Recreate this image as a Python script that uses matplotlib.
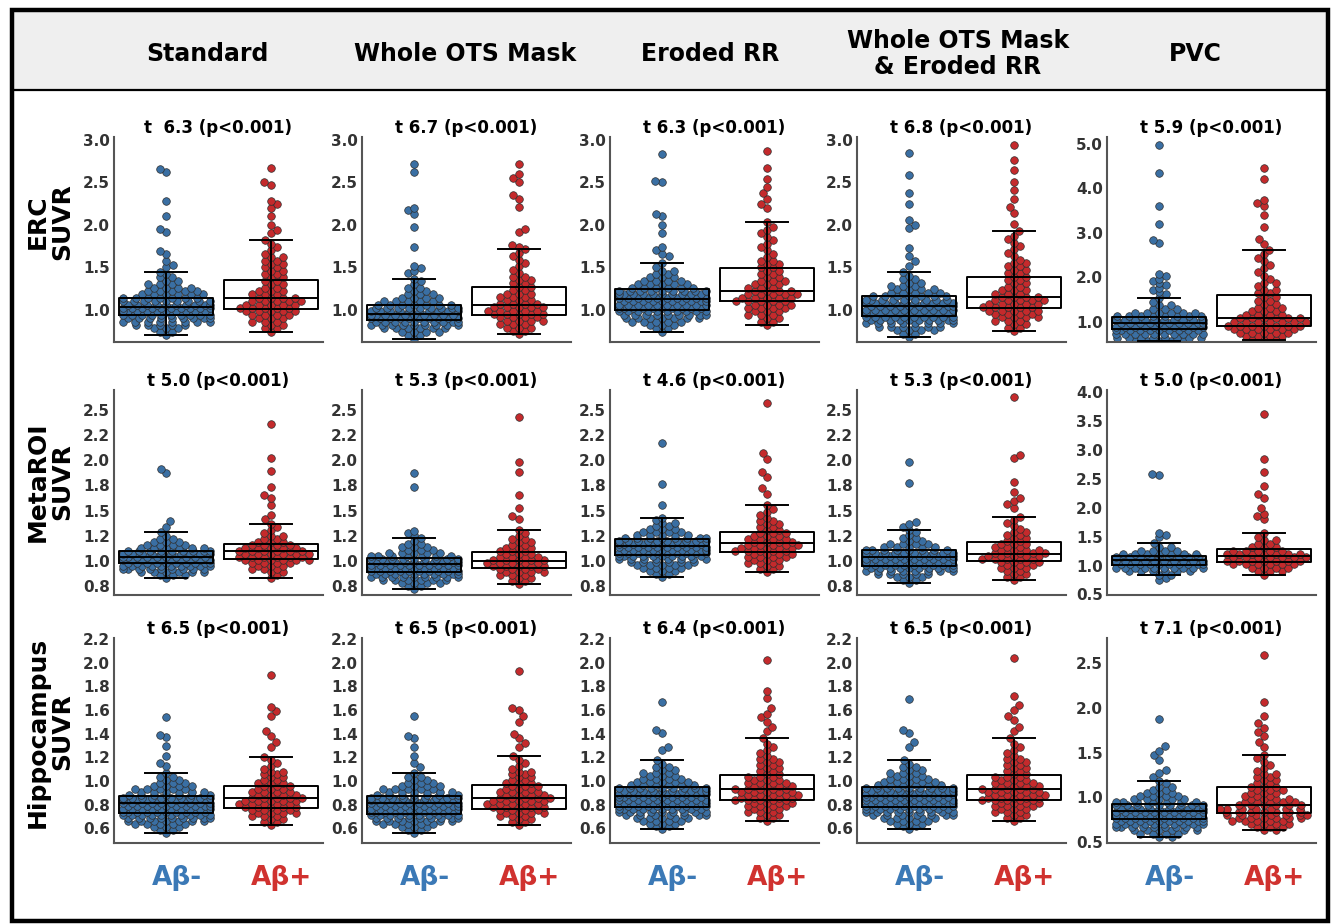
import numpy as np
import matplotlib
matplotlib.use('Agg')
import matplotlib.pyplot as plt
from matplotlib.patches import Rectangle
from matplotlib.lines import Line2D
from matplotlib.ticker import FormatStrFormatter

OUT_FILE = 'out.png'

COLUMNS = ['Standard', 'Whole OTS Mask', 'Eroded RR', 'Whole OTS Mask\n& Eroded RR', 'PVC']
ROWS = ['ERC\nSUVR', 'MetaROI\nSUVR', 'Hippocampus\nSUVR']
GROUPS = ['Aβ-', 'Aβ+']

T_LABELS = [
    ['t  6.3 (p<0.001)', 't 6.7 (p<0.001)', 't 6.3 (p<0.001)', 't 6.8 (p<0.001)', 't 5.9 (p<0.001)'],
    ['t 5.0 (p<0.001)', 't 5.3 (p<0.001)', 't 4.6 (p<0.001)', 't 5.3 (p<0.001)', 't 5.0 (p<0.001)'],
    ['t 6.5 (p<0.001)', 't 6.5 (p<0.001)', 't 6.4 (p<0.001)', 't 6.5 (p<0.001)', 't 7.1 (p<0.001)'],
]

# y ticks / limits per row: (standard-like columns, PVC column)
Y_TICKS = [
    ([1.0, 1.5, 2.0, 2.5, 3.0], [1.0, 2.0, 3.0, 4.0, 5.0]),
    ([0.75, 1.0, 1.25, 1.5, 1.75, 2.0, 2.25, 2.5], [0.5, 1.0, 1.5, 2.0, 2.5, 3.0, 3.5, 4.0]),
    ([0.6, 0.8, 1.0, 1.2, 1.4, 1.6, 1.8, 2.0, 2.2], [0.5, 1.0, 1.5, 2.0, 2.5]),
]
Y_LIMS = [
    ((0.62, 3.035), (0.55, 5.15)),
    ((0.66, 2.70), (0.49, 4.04)),
    ((0.475, 2.21), (0.49, 2.78)),
]

# ---- box statistics: whislo, q1, median, q3, whishi ----
ERC_NEG_BOX = [[0.70, 0.94, 1.03, 1.14, 1.45], [0.66, 0.88, 0.95, 1.05, 1.36],
               [0.74, 1.00, 1.13, 1.24, 1.55], [0.68, 0.93, 1.04, 1.165, 1.44],
               [0.57, 0.85, 0.97, 1.12, 1.54]]
ERC_POS_BOX = [[0.74, 1.01, 1.14, 1.35, 1.82], [0.71, 0.94, 1.06, 1.27, 1.71],
               [0.82, 1.10, 1.22, 1.49, 2.03], [0.75, 1.02, 1.15, 1.39, 1.93],
               [0.60, 0.92, 1.08, 1.61, 2.62]]
META_NEG_BOX = [[0.83, 0.98, 1.04, 1.10, 1.29], [0.72, 0.89, 0.97, 1.03, 1.23],
                [0.84, 1.06, 1.15, 1.22, 1.43], [0.78, 0.95, 1.04, 1.11, 1.31],
                [0.84, 1.01, 1.09, 1.16, 1.39]]
META_POS_BOX = [[0.83, 1.02, 1.10, 1.17, 1.37], [0.77, 0.93, 1.00, 1.09, 1.31],
                [0.89, 1.09, 1.18, 1.29, 1.56], [0.81, 1.00, 1.07, 1.19, 1.44],
                [0.84, 1.07, 1.17, 1.29, 1.56]]
HIPP_NEG_BOX = [[0.56, 0.73, 0.81, 0.87, 1.07], [0.56, 0.72, 0.81, 0.87, 1.07],
                [0.59, 0.78, 0.87, 0.95, 1.18], [0.59, 0.78, 0.87, 0.95, 1.18],
                [0.56, 0.76, 0.85, 0.93, 1.18]]
HIPP_POS_BOX = [[0.63, 0.77, 0.86, 0.96, 1.20], [0.63, 0.76, 0.86, 0.97, 1.21],
                [0.66, 0.84, 0.93, 1.05, 1.36], [0.66, 0.84, 0.93, 1.05, 1.36],
                [0.63, 0.83, 0.92, 1.11, 1.47]]

ERC_NEG = [
    [(0.70, 1), (0.74, 2), (0.78, 3), (0.82, 5), (0.86, 8), (0.90, 9), (0.94, 10), (0.98, 10),
     (1.02, 10), (1.06, 10), (1.10, 9), (1.14, 7), (1.18, 6), (1.22, 5), (1.26, 4), (1.30, 3),
     (1.34, 2), (1.38, 2), (1.42, 1), (1.45, 1)],
    [(0.66, 1), (0.70, 2), (0.74, 4), (0.78, 6), (0.82, 9), (0.86, 10), (0.90, 10), (0.94, 10),
     (0.98, 10), (1.02, 9), (1.06, 7), (1.10, 5), (1.14, 4), (1.18, 3), (1.22, 2), (1.26, 2),
     (1.30, 1), (1.34, 1), (1.36, 1)],
    [(0.74, 1), (0.78, 2), (0.82, 3), (0.86, 5), (0.90, 7), (0.94, 9), (0.98, 10), (1.02, 10),
     (1.06, 10), (1.10, 10), (1.14, 10), (1.18, 10), (1.22, 9), (1.26, 6), (1.30, 5), (1.34, 4),
     (1.38, 3), (1.42, 2), (1.46, 2), (1.50, 1), (1.55, 1)],
    [(0.68, 1), (0.72, 2), (0.76, 4), (0.80, 6), (0.84, 8), (0.88, 10), (0.92, 10), (0.96, 10),
     (1.00, 10), (1.04, 10), (1.08, 10), (1.12, 9), (1.16, 7), (1.20, 5), (1.24, 4), (1.28, 3),
     (1.32, 2), (1.36, 2), (1.40, 1), (1.44, 1)],
    [(0.57, 5), (0.65, 8), (0.73, 10), (0.81, 10), (0.89, 10), (0.97, 10), (1.05, 10), (1.13, 8),
     (1.21, 6), (1.29, 3), (1.37, 2), (1.45, 1), (1.54, 1)],
]
ERC_NEG_OUT = [
    [1.50, 1.53, 1.57, 1.66, 1.69, 1.91, 1.95, 2.10, 2.28, 2.62, 2.66],
    [1.43, 1.46, 1.49, 1.52, 1.74, 1.98, 2.13, 2.17, 2.20, 2.62, 2.72],
    [1.63, 1.66, 1.70, 1.74, 1.90, 2.00, 2.10, 2.13, 2.50, 2.52, 2.84],
    [1.52, 1.57, 1.63, 1.73, 1.96, 2.00, 2.06, 2.24, 2.37, 2.59, 2.85],
    [1.62, 1.67, 1.72, 1.77, 1.82, 1.87, 1.92, 1.97, 2.02, 2.07, 2.78, 2.85, 3.20, 3.60, 4.35, 4.98],
]
ERC_POS = [
    [(0.74, 1), (0.78, 2), (0.82, 2), (0.86, 3), (0.90, 3), (0.94, 4), (0.98, 5), (1.02, 5),
     (1.06, 5), (1.10, 5), (1.14, 4), (1.18, 3), (1.22, 3), (1.26, 2), (1.30, 2), (1.34, 2),
     (1.38, 2), (1.42, 2), (1.46, 2), (1.50, 2), (1.54, 2), (1.58, 2), (1.62, 2), (1.66, 1),
     (1.70, 1), (1.74, 1), (1.78, 1), (1.82, 1)],
    [(0.71, 1), (0.75, 2), (0.79, 3), (0.83, 3), (0.87, 4), (0.91, 4), (0.95, 5), (0.99, 5),
     (1.03, 5), (1.07, 4), (1.11, 3), (1.15, 3), (1.19, 3), (1.23, 2), (1.27, 2), (1.31, 2),
     (1.35, 2), (1.39, 2), (1.43, 1), (1.47, 1), (1.51, 1), (1.55, 1), (1.59, 1), (1.63, 1),
     (1.67, 1), (1.71, 1)],
    [(0.82, 1), (0.86, 2), (0.90, 2), (0.94, 3), (0.98, 3), (1.02, 4), (1.06, 4), (1.10, 5),
     (1.14, 5), (1.18, 5), (1.22, 4), (1.26, 3), (1.30, 3), (1.34, 3), (1.38, 2), (1.42, 2),
     (1.46, 2), (1.50, 2), (1.54, 2), (1.58, 2), (1.62, 1), (1.66, 1), (1.70, 1), (1.74, 1),
     (1.78, 1), (1.82, 1), (1.86, 1), (1.90, 1), (1.94, 1), (1.98, 1), (2.03, 1)],
    [(0.75, 1), (0.79, 2), (0.83, 2), (0.87, 3), (0.91, 4), (0.95, 4), (0.99, 5), (1.03, 5),
     (1.07, 5), (1.11, 5), (1.15, 4), (1.19, 3), (1.23, 3), (1.27, 2), (1.31, 2), (1.35, 2),
     (1.39, 2), (1.43, 2), (1.47, 2), (1.51, 2), (1.55, 2), (1.59, 1), (1.63, 1), (1.67, 1),
     (1.71, 1), (1.75, 1), (1.79, 1), (1.83, 1), (1.87, 1), (1.93, 1)],
    [(0.60, 3), (0.68, 4), (0.76, 5), (0.84, 6), (0.92, 7), (1.00, 7), (1.08, 6), (1.16, 4),
     (1.24, 3), (1.32, 3), (1.40, 2), (1.48, 2), (1.56, 2), (1.64, 2), (1.72, 2), (1.80, 1),
     (1.88, 2), (1.96, 1), (2.04, 1), (2.12, 1), (2.20, 1), (2.28, 1), (2.36, 1), (2.44, 1),
     (2.52, 1), (2.62, 1)],
]
ERC_POS_OUT = [
    [1.90, 1.94, 2.00, 2.10, 2.20, 2.25, 2.28, 2.47, 2.50, 2.67],
    [1.74, 1.76, 1.92, 1.95, 2.21, 2.30, 2.35, 2.50, 2.55, 2.60, 2.72],
    [2.20, 2.25, 2.30, 2.38, 2.45, 2.54, 2.67, 2.87],
    [2.01, 2.14, 2.21, 2.31, 2.41, 2.51, 2.65, 2.76, 2.94],
    [2.75, 2.86, 3.12, 3.39, 3.60, 3.67, 3.74, 4.20, 4.46],
]

META_NEG = [
    [(0.83, 1), (0.86, 3), (0.89, 6), (0.92, 9), (0.95, 10), (0.98, 10), (1.01, 10), (1.04, 10),
     (1.07, 10), (1.10, 9), (1.13, 6), (1.16, 4), (1.19, 3), (1.22, 2), (1.25, 1), (1.29, 1)],
    [(0.72, 1), (0.75, 2), (0.78, 4), (0.81, 6), (0.84, 9), (0.87, 10), (0.90, 10), (0.93, 10),
     (0.96, 10), (0.99, 10), (1.02, 9), (1.05, 7), (1.08, 5), (1.11, 3), (1.14, 3), (1.17, 2),
     (1.20, 1), (1.23, 1)],
    [(0.84, 1), (0.87, 2), (0.90, 3), (0.93, 4), (0.96, 5), (0.99, 6), (1.02, 8), (1.05, 10),
     (1.08, 10), (1.11, 10), (1.14, 10), (1.17, 10), (1.20, 10), (1.23, 8), (1.26, 5), (1.29, 4),
     (1.32, 3), (1.35, 2), (1.38, 2), (1.41, 1), (1.43, 1)],
    [(0.78, 1), (0.81, 2), (0.84, 3), (0.87, 5), (0.90, 8), (0.93, 10), (0.96, 10), (0.99, 10),
     (1.02, 10), (1.05, 10), (1.08, 10), (1.11, 8), (1.14, 5), (1.17, 4), (1.20, 2), (1.23, 2),
     (1.26, 1), (1.29, 1), (1.31, 1)],
    [(0.84, 2), (0.90, 6), (0.96, 10), (1.02, 10), (1.08, 10), (1.14, 10), (1.20, 7), (1.26, 4),
     (1.32, 2), (1.39, 1)],
]
META_NEG_OUT = [
    [1.34, 1.40, 1.87, 1.91],
    [1.26, 1.28, 1.30, 1.73, 1.87],
    [1.56, 1.76, 2.17],
    [1.34, 1.37, 1.39, 1.77, 1.98],
    [0.75, 0.78, 1.50, 1.53, 1.56, 2.57, 2.59],
]
META_POS = [
    [(0.83, 1), (0.86, 1), (0.89, 2), (0.92, 3), (0.95, 3), (0.98, 4), (1.01, 6), (1.04, 6),
     (1.07, 6), (1.10, 6), (1.13, 5), (1.16, 4), (1.19, 3), (1.22, 2), (1.25, 2), (1.28, 1),
     (1.31, 1), (1.34, 1), (1.37, 1)],
    [(0.77, 1), (0.80, 2), (0.83, 2), (0.86, 3), (0.89, 4), (0.92, 4), (0.95, 5), (0.98, 5),
     (1.01, 5), (1.04, 4), (1.07, 3), (1.10, 3), (1.13, 3), (1.16, 2), (1.19, 2), (1.22, 2),
     (1.25, 1), (1.28, 1), (1.31, 1)],
    [(0.89, 1), (0.92, 2), (0.95, 2), (0.98, 3), (1.01, 3), (1.04, 4), (1.07, 4), (1.10, 5),
     (1.13, 5), (1.16, 5), (1.19, 4), (1.22, 4), (1.25, 3), (1.28, 3), (1.31, 2), (1.34, 2),
     (1.37, 2), (1.40, 2), (1.43, 1), (1.46, 1), (1.49, 1), (1.52, 1), (1.56, 1)],
    [(0.81, 1), (0.84, 2), (0.87, 2), (0.90, 2), (0.93, 3), (0.96, 3), (0.99, 4), (1.02, 5),
     (1.05, 5), (1.08, 5), (1.11, 4), (1.14, 3), (1.17, 3), (1.20, 2), (1.23, 2), (1.26, 2),
     (1.29, 2), (1.32, 1), (1.35, 1), (1.38, 1), (1.41, 1), (1.44, 1)],
    [(0.84, 1), (0.90, 3), (0.96, 4), (1.02, 6), (1.08, 7), (1.14, 7), (1.20, 7), (1.26, 5),
     (1.32, 3), (1.38, 2), (1.44, 2), (1.50, 1), (1.56, 1)],
]
META_POS_OUT = [
    [1.42, 1.46, 1.56, 1.63, 1.66, 1.73, 1.89, 2.02, 2.36],
    [1.42, 1.45, 1.53, 1.66, 1.88, 1.98, 2.43],
    [1.67, 1.72, 1.83, 1.88, 2.01, 2.07, 2.57],
    [1.53, 1.57, 1.60, 1.63, 1.68, 1.78, 2.02, 2.05, 2.63],
    [1.80, 1.85, 1.89, 2.00, 2.17, 2.24, 2.38, 2.62, 2.85, 3.63],
]

HIPP_NEG = [
    [(0.56, 1), (0.585, 2), (0.61, 3), (0.635, 5), (0.66, 7), (0.685, 9), (0.71, 10), (0.735, 10),
     (0.76, 10), (0.785, 10), (0.81, 10), (0.835, 10), (0.86, 10), (0.885, 8), (0.91, 6),
     (0.935, 5), (0.96, 4), (0.985, 3), (1.01, 2), (1.035, 2), (1.07, 1)],
    [(0.56, 1), (0.585, 2), (0.61, 3), (0.635, 5), (0.66, 7), (0.685, 9), (0.71, 10), (0.735, 10),
     (0.76, 10), (0.785, 10), (0.81, 10), (0.835, 10), (0.86, 9), (0.885, 8), (0.91, 6),
     (0.935, 5), (0.96, 4), (0.985, 3), (1.01, 2), (1.035, 2), (1.07, 1)],
    [(0.59, 1), (0.615, 2), (0.64, 3), (0.665, 4), (0.69, 5), (0.715, 7), (0.74, 9), (0.765, 10),
     (0.79, 10), (0.815, 10), (0.84, 10), (0.865, 10), (0.89, 10), (0.915, 10), (0.94, 9),
     (0.965, 6), (0.99, 5), (1.015, 4), (1.04, 3), (1.065, 3), (1.09, 2), (1.115, 2), (1.14, 1),
     (1.18, 1)],
    [(0.59, 1), (0.615, 2), (0.64, 3), (0.665, 4), (0.69, 5), (0.715, 7), (0.74, 9), (0.765, 10),
     (0.79, 10), (0.815, 10), (0.84, 10), (0.865, 10), (0.89, 10), (0.915, 10), (0.94, 9),
     (0.965, 6), (0.99, 5), (1.015, 4), (1.04, 3), (1.065, 3), (1.09, 2), (1.115, 2), (1.14, 1),
     (1.18, 1)],
    [(0.56, 2), (0.595, 4), (0.63, 6), (0.665, 9), (0.70, 10), (0.735, 10), (0.77, 10), (0.805, 10),
     (0.84, 10), (0.875, 10), (0.91, 9), (0.945, 7), (0.98, 5), (1.015, 4), (1.05, 3), (1.085, 2),
     (1.12, 2), (1.155, 1), (1.18, 1)],
]
HIPP_NEG_OUT = [
    [1.13, 1.15, 1.21, 1.30, 1.37, 1.39, 1.54],
    [1.12, 1.15, 1.21, 1.29, 1.36, 1.38, 1.55],
    [1.26, 1.29, 1.41, 1.43, 1.67],
    [1.29, 1.33, 1.41, 1.43, 1.69],
    [1.23, 1.27, 1.30, 1.42, 1.47, 1.52, 1.57, 1.88],
]
HIPP_POS = [
    [(0.63, 1), (0.655, 2), (0.68, 2), (0.705, 3), (0.73, 4), (0.755, 4), (0.78, 5), (0.805, 5),
     (0.83, 5), (0.855, 5), (0.88, 4), (0.905, 4), (0.93, 3), (0.955, 3), (0.98, 3), (1.005, 2),
     (1.03, 2), (1.055, 2), (1.08, 2), (1.105, 1), (1.13, 1), (1.155, 1), (1.18, 1), (1.20, 1)],
    [(0.63, 1), (0.655, 2), (0.68, 2), (0.705, 3), (0.73, 4), (0.755, 4), (0.78, 5), (0.805, 5),
     (0.83, 5), (0.855, 5), (0.88, 4), (0.905, 4), (0.93, 3), (0.955, 3), (0.98, 3), (1.005, 2),
     (1.03, 2), (1.055, 2), (1.08, 2), (1.105, 1), (1.13, 1), (1.155, 1), (1.18, 1), (1.21, 1)],
    [(0.66, 1), (0.685, 2), (0.71, 2), (0.735, 3), (0.76, 3), (0.785, 4), (0.81, 4), (0.835, 5),
     (0.86, 5), (0.885, 5), (0.91, 5), (0.935, 5), (0.96, 4), (0.985, 4), (1.01, 3), (1.035, 3),
     (1.06, 2), (1.085, 2), (1.11, 2), (1.135, 2), (1.16, 2), (1.185, 2), (1.21, 1), (1.235, 1),
     (1.26, 1), (1.285, 1), (1.31, 1), (1.36, 1)],
    [(0.66, 1), (0.685, 2), (0.71, 2), (0.735, 3), (0.76, 3), (0.785, 4), (0.81, 4), (0.835, 5),
     (0.86, 5), (0.885, 5), (0.91, 5), (0.935, 5), (0.96, 4), (0.985, 4), (1.01, 3), (1.035, 3),
     (1.06, 2), (1.085, 2), (1.11, 2), (1.135, 2), (1.16, 2), (1.185, 2), (1.21, 1), (1.235, 1),
     (1.26, 1), (1.285, 1), (1.31, 1), (1.36, 1)],
    [(0.63, 2), (0.665, 3), (0.70, 4), (0.735, 5), (0.77, 6), (0.805, 7), (0.84, 7), (0.875, 7),
     (0.91, 6), (0.945, 5), (0.98, 4), (1.015, 3), (1.05, 3), (1.085, 3), (1.12, 3), (1.155, 2),
     (1.19, 2), (1.225, 2), (1.26, 2), (1.295, 1), (1.33, 1), (1.365, 1), (1.40, 1), (1.435, 1),
     (1.47, 1)],
]
HIPP_POS_OUT = [
    [1.29, 1.33, 1.38, 1.42, 1.55, 1.59, 1.63, 1.90],
    [1.29, 1.32, 1.36, 1.40, 1.50, 1.55, 1.60, 1.62, 1.93],
    [1.42, 1.46, 1.50, 1.54, 1.57, 1.62, 1.70, 1.76, 2.02],
    [1.42, 1.46, 1.52, 1.55, 1.60, 1.64, 1.72, 2.04],
    [1.56, 1.62, 1.68, 1.73, 1.78, 1.83, 1.91, 2.06, 2.59],
]

ROW_DATA = [
    (ERC_NEG, ERC_NEG_OUT, ERC_POS, ERC_POS_OUT, ERC_NEG_BOX, ERC_POS_BOX),
    (META_NEG, META_NEG_OUT, META_POS, META_POS_OUT, META_NEG_BOX, META_POS_BOX),
    (HIPP_NEG, HIPP_NEG_OUT, HIPP_POS, HIPP_POS_OUT, HIPP_NEG_BOX, HIPP_POS_BOX),
]

BLUE = '#3a6fa3'
RED = '#c42a2c'
BLUE_TXT = '#3b79b6'
RED_TXT = '#d0322f'

W, H = 1336, 924
AX_LEFT = [114, 362, 610, 857, 1107]
AX_TOP = [137, 390, 638]
AX_W, AX_H = 209, 205
HEAD_X = [207, 465, 710, 958, 1195]
ROW_LABEL_Y = [222, 482, 732]
DOT = 7.0          # spacing between packed markers, px
HALF = 0.45        # half width of the swarm / box, data units


def swarm(pairs, extra, px_x, px_y):
    """Pack the points of one group into a beeswarm; returns x offsets and values."""
    counts = {}
    for v, n in pairs:
        counts[v] = counts.get(v, 0) + n
    for v in extra:
        counts[v] = counts.get(v, 0) + 1
    levels = sorted(counts)
    ys = [v * px_y for v in levels]
    lim = HALF * px_x - DOT / 2
    xs, vals = [], []
    parity = 0
    for i, v in enumerate(levels):
        gap_prev = ys[i] - ys[i - 1] if i > 0 else 1e9
        gap_next = ys[i + 1] - ys[i] if i < len(levels) - 1 else 1e9
        parity = 0 if gap_prev >= DOT else 1 - parity
        dy = min(gap_prev, gap_next)
        step = 2 * np.sqrt(DOT ** 2 - dy ** 2) if dy < DOT else DOT
        if parity == 0:
            slots = [0.0] + [k * step * sg for k in range(1, 40) for sg in (1, -1)]
        else:
            sg0 = 1 if i % 4 == 1 else -1
            slots = [(k + 0.5) * step * sg for k in range(40) for sg in (sg0, -sg0)]
        slots = [s for s in slots if abs(s) <= lim]
        n = counts[v]
        if n <= len(slots):
            off = slots[:n]
        else:
            # more subjects than fit: squeeze the row, staggered against its neighbours
            sp = 2 * lim / (n - 1)
            if parity == 0:
                off = list(np.linspace(-lim, lim, n))
            else:
                edge = lim if i % 4 == 1 else -lim
                off = list(np.linspace(-lim + sp / 2, lim - sp / 2, n - 1)) + [edge]
        xs += [o / px_x for o in off]
        vals += [v] * n
    return np.array(xs), np.array(vals)


def draw_panel(ax, row, c, ylim):
    neg_all, neg_out, pos_all, pos_out, neg_box, pos_box = ROW_DATA[row]
    px_x = AX_W / 2.0
    px_y = AX_H / (ylim[1] - ylim[0])
    for pos, pairs, extra, color in [(0, neg_all[c], neg_out[c], BLUE),
                                     (1, pos_all[c], pos_out[c], RED)]:
        dx, y = swarm(pairs, extra, px_x, px_y)
        ax.scatter(pos + dx, y, s=30, color=color, edgecolors='#2e2e2e',
                   linewidths=0.5, zorder=2)

    boxes = [neg_box[c], pos_box[c]]
    stats = [dict(whislo=b[0], q1=b[1], med=b[2], q3=b[3], whishi=b[4], fliers=[])
             for b in boxes]
    lp = dict(color='black', lw=1.4)
    ax.bxp(stats, positions=[0, 1], widths=0.9, capwidths=0.4, showfliers=False,
           manage_ticks=False, boxprops=lp, whiskerprops=lp, capprops=lp,
           medianprops=lp, zorder=3)
    ax.vlines([0, 1], [b[1] for b in boxes], [b[3] for b in boxes],
              color='black', lw=1.4, zorder=3)


def main():
    plt.rcParams['font.family'] = ['DejaVu Sans']
    plt.rcParams['font.weight'] = 'bold'

    fig = plt.figure(figsize=(W / 100, H / 100), dpi=100)

    # header band + frame
    fig.patches.append(Rectangle((12 / W, 1 - 90 / H), 1316 / W, 78 / H,
                                 transform=fig.transFigure, facecolor='#efefef',
                                 edgecolor='none', zorder=0))
    fig.lines.append(Line2D([12 / W, 1328 / W], [1 - 90 / H, 1 - 90 / H],
                            transform=fig.transFigure, color='black', lw=1.6))
    fig.patches.append(Rectangle((12 / W, 1 - 921 / H), 1316 / W, 911 / H,
                                 transform=fig.transFigure, facecolor='none',
                                 edgecolor='black', lw=3.2, zorder=5))

    for c, name in enumerate(COLUMNS):
        fig.text(HEAD_X[c] / W, 1 - 54 / H, name, ha='center', va='center',
                 fontsize=17, fontweight='bold', linespacing=1.15)
    for r, name in enumerate(ROWS):
        fig.text(50 / W, 1 - ROW_LABEL_Y[r] / H, name, ha='center', va='center',
                 rotation=90, fontsize=18, fontweight='bold', linespacing=1.0)

    for r in range(3):
        for c in range(5):
            ax = fig.add_axes([AX_LEFT[c] / W, 1 - (AX_TOP[r] + AX_H) / H, AX_W / W, AX_H / H])
            k = 1 if c == 4 else 0
            ylim = Y_LIMS[r][k]
            draw_panel(ax, r, c, ylim)

            ax.set_xlim(-0.5, 1.5)
            ax.set_ylim(*ylim)
            ax.set_yticks(Y_TICKS[r][k])
            ax.yaxis.set_major_formatter(FormatStrFormatter('%.1f'))
            ax.tick_params(axis='y', length=0, pad=3, labelsize=11, labelcolor='#333333')
            for s in ('top', 'right'):
                ax.spines[s].set_visible(False)
            for s in ('left', 'bottom'):
                ax.spines[s].set_color('#555555')
                ax.spines[s].set_linewidth(1.5)
            ax.set_title(T_LABELS[r][c], fontsize=12, fontweight='bold', pad=3)

            if r == 2:
                ax.set_xticks([0.1, 1.1], GROUPS)
                ax.tick_params(axis='x', length=0, pad=16, labelsize=19)
                for lab, col in zip(ax.get_xticklabels(), [BLUE_TXT, RED_TXT]):
                    lab.set_color(col)
            else:
                ax.set_xticks([])

    fig.savefig(OUT_FILE, dpi=100)


if __name__ == '__main__':
    main()
